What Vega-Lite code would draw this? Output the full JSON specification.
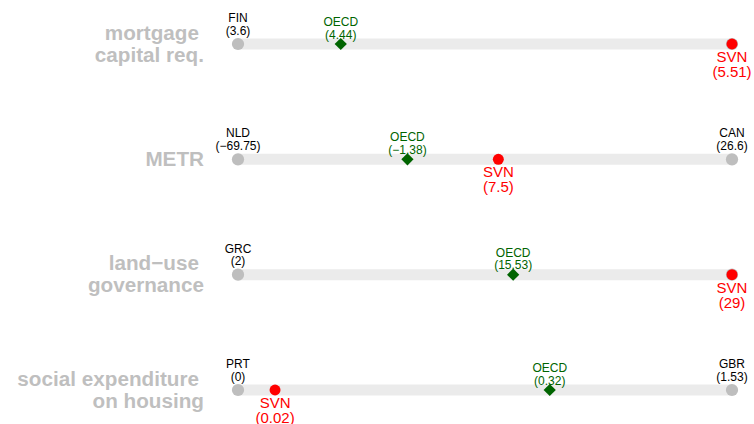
{
  "$schema": "https://vega.github.io/schema/vega-lite/v6.json",
  "width": 754,
  "height": 424,
  "padding": 0,
  "autosize": "none",
  "background": "white",
  "config": {"view": {"stroke": null}, "font": "Liberation Sans"},
  "datasets": {
    "rows": [
      {"row": "mortgage", "x0": 0, "x1": 1},
      {"row": "METR", "x0": 0, "x1": 1},
      {"row": "land", "x0": 0, "x1": 1},
      {"row": "social", "x0": 0, "x1": 1}
    ],
    "lbl": [
      {"row": "mortgage", "line": 1, "text": "mortgage", "x0": 0},
      {"row": "mortgage", "line": 2, "text": "capital req.", "x0": 0},
      {"row": "METR", "line": 0, "text": "METR", "x0": 0},
      {"row": "land", "line": 1, "text": "land\u2212use", "x0": 0},
      {"row": "land", "line": 2, "text": "governance", "x0": 0},
      {"row": "social", "line": 1, "text": "social expenditure", "x0": 0},
      {"row": "social", "line": 2, "text": "on housing", "x0": 0}
    ],
    "pts": [
      {"row": "mortgage", "type": "min", "pos": 0, "lab": "FIN\n(3.6)"},
      {"row": "mortgage", "type": "max", "pos": 1, "lab": ""},
      {"row": "mortgage", "type": "OECD", "pos": 0.208, "lab": "OECD\n(4.44)"},
      {"row": "mortgage", "type": "SVN", "pos": 1, "lab": "SVN\n(5.51)"},
      {"row": "METR", "type": "min", "pos": 0, "lab": "NLD\n(\u221269.75)"},
      {"row": "METR", "type": "max", "pos": 1, "lab": "CAN\n(26.6)"},
      {"row": "METR", "type": "OECD", "pos": 0.343, "lab": "OECD\n(\u22121.38)"},
      {"row": "METR", "type": "SVN", "pos": 0.527, "lab": "SVN\n(7.5)"},
      {"row": "land", "type": "min", "pos": 0, "lab": "GRC\n(2)"},
      {"row": "land", "type": "max", "pos": 1, "lab": ""},
      {"row": "land", "type": "OECD", "pos": 0.557, "lab": "OECD\n(15.53)"},
      {"row": "land", "type": "SVN", "pos": 1, "lab": "SVN\n(29)"},
      {"row": "social", "type": "min", "pos": 0, "lab": "PRT\n(0)"},
      {"row": "social", "type": "max", "pos": 1, "lab": "GBR\n(1.53)"},
      {"row": "social", "type": "OECD", "pos": 0.631, "lab": "OECD\n(0.32)"},
      {"row": "social", "type": "SVN", "pos": 0.075, "lab": "SVN\n(0.02)"}
    ]
  },
  "encoding": {
    "y": {
      "field": "row", "type": "nominal",
      "scale": {"type": "point", "domain": ["mortgage", "METR", "land", "social"], "range": [44, 390], "padding": 0},
      "axis": null
    }
  },
  "layer": [
    {
      "data": {"name": "rows"},
      "mark": {"type": "rule", "color": "#ebebeb", "strokeWidth": 11, "strokeCap": "butt"},
      "encoding": {
        "x": {"field": "x0", "type": "quantitative", "scale": {"domain": [0, 1], "range": [238, 732]}, "axis": null},
        "x2": {"field": "x1"}
      }
    },
    {
      "data": {"name": "lbl"},
      "transform": [{"filter": "datum.line === 1"}],
      "mark": {"type": "text", "align": "right", "baseline": "middle", "dx": -39, "dy": -10.5, "fontSize": 20.7, "fontWeight": "bold", "color": "#bfbfbf"},
      "encoding": {"x": {"field": "x0", "type": "quantitative"}, "text": {"field": "text"}}
    },
    {
      "data": {"name": "lbl"},
      "transform": [{"filter": "datum.line === 2"}],
      "mark": {"type": "text", "align": "right", "baseline": "middle", "dx": -34, "dy": 11.5, "fontSize": 20.7, "fontWeight": "bold", "color": "#bfbfbf"},
      "encoding": {"x": {"field": "x0", "type": "quantitative"}, "text": {"field": "text"}}
    },
    {
      "data": {"name": "lbl"},
      "transform": [{"filter": "datum.line === 0"}],
      "mark": {"type": "text", "align": "right", "baseline": "middle", "dx": -34, "dy": 0.5, "fontSize": 20.7, "fontWeight": "bold", "color": "#bfbfbf"},
      "encoding": {"x": {"field": "x0", "type": "quantitative"}, "text": {"field": "text"}}
    },
    {
      "data": {"name": "pts"},
      "transform": [{"filter": "datum.type === 'min' || datum.type === 'max'"}],
      "mark": {"type": "circle", "color": "#bebebe", "opacity": 1, "size": 150},
      "encoding": {"x": {"field": "pos", "type": "quantitative"}}
    },
    {
      "data": {"name": "pts"},
      "transform": [{"filter": "datum.type === 'OECD'"}],
      "mark": {"type": "point", "shape": "diamond", "filled": true, "color": "#006400", "opacity": 1, "size": 150},
      "encoding": {"x": {"field": "pos", "type": "quantitative"}}
    },
    {
      "data": {"name": "pts"},
      "transform": [{"filter": "datum.type === 'SVN'"}],
      "mark": {"type": "circle", "color": "#ff0000", "opacity": 1, "size": 120},
      "encoding": {"x": {"field": "pos", "type": "quantitative"}}
    },
    {
      "data": {"name": "pts"},
      "transform": [{"filter": "(datum.type === 'min' || datum.type === 'max') && datum.lab !== ''"}],
      "mark": {"type": "text", "baseline": "middle", "align": "center", "dy": -26, "fontSize": 12, "color": "#000000", "lineBreak": "\n", "lineHeight": 12.7},
      "encoding": {"x": {"field": "pos", "type": "quantitative"}, "text": {"field": "lab"}}
    },
    {
      "data": {"name": "pts"},
      "transform": [{"filter": "datum.type === 'OECD'"}],
      "mark": {"type": "text", "baseline": "middle", "align": "center", "dy": -22, "fontSize": 12, "color": "#006400", "lineBreak": "\n", "lineHeight": 12.5},
      "encoding": {"x": {"field": "pos", "type": "quantitative"}, "text": {"field": "lab"}}
    },
    {
      "data": {"name": "pts"},
      "transform": [{"filter": "datum.type === 'SVN'"}],
      "mark": {"type": "text", "baseline": "middle", "align": "center", "dy": 13, "fontSize": 15, "color": "#ff0000", "lineBreak": "\n", "lineHeight": 15},
      "encoding": {"x": {"field": "pos", "type": "quantitative"}, "text": {"field": "lab"}}
    }
  ]
}
